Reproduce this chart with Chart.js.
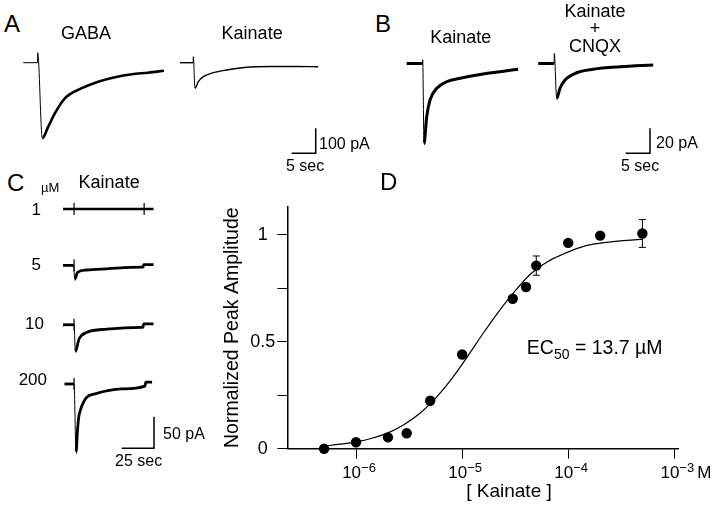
<!DOCTYPE html>
<html><head><meta charset="utf-8">
<script src="https://cdn.jsdelivr.net/npm/chart.js@4.4.1/dist/chart.umd.min.js"></script>
<style>
html,body{margin:0;padding:0;background:#fff;}
#fig{position:relative;width:720px;height:508px;overflow:hidden;background:#fff;font-family:'Liberation Sans',Arial,Helvetica,sans-serif;color:#000;}
#fig canvas{position:absolute;}
.t{position:absolute;line-height:1;white-space:nowrap;}
</style></head><body><div id="fig"></div>
<script>
// ---------- Panel D: dose-response ----------
const doseConc = [5e-7, 1e-6, 2e-6, 3e-6, 5e-6, 1e-5, 3e-5, 4e-5, 5e-5, 1e-4, 2e-4, 5e-4];
const doseAmp  = [0.0, 0.03, 0.053, 0.072, 0.224, 0.44, 0.70, 0.755, 0.855, 0.961, 0.995, 1.005];
const errConc  = [5e-5, 5e-4];
const errMean  = [0.855, 1.005];
const errSem   = [0.045, 0.065];
const fitConc  = [5.01e-7, 7.08e-7, 1.0e-6, 1.41e-6, 2.0e-6, 2.82e-6, 3.98e-6, 5.62e-6, 7.94e-6, 1.12e-5, 1.58e-5, 2.24e-5, 3.16e-5, 4.47e-5, 6.31e-5, 8.91e-5, 1.26e-4, 1.78e-4, 2.51e-4, 3.55e-4, 5.01e-4];
const fitAmp   = [0.012, 0.021, 0.032, 0.049, 0.074, 0.112, 0.164, 0.236, 0.325, 0.429, 0.539, 0.644, 0.737, 0.818, 0.872, 0.908, 0.938, 0.956, 0.966, 0.973, 0.978];
const xTickValues = [1e-6, 1e-5, 1e-4, 1e-3];
const xTickExps   = ['\u22126', '\u22125', '\u22124', '\u22123'];
const xTickUnits  = ['', '', '', 'M'];
const yTickValues = [0, 0.25, 0.5, 0.75, 1];
const yTickLabels = ['0', '', '0.5', '', '1'];
const xTitle = '[ Kainate ]';
const yTitle = 'Normalized Peak Amplitude';

// ---------- Panel A traces (time s, current pA) ----------
const gabaT = [-3.0, -0.05, 0, 0.96, 2.2, 3.6, 5.7, 9.2, 12.6, 16.1, 19.6, 23.0, 26.3];
const gabaI = [0, 0, 40, -302, -256, -202, -142, -102, -76, -58, -46, -40, -32];
const kaAT  = [-2.8, -0.05, 0, 0.35, 1.04, 2.1, 4.2, 7.0, 11.1, 16.0, 21.5, 26.0];
const kaAI  = [0, 0, 24, -102, -76, -56, -40, -29, -18, -15, -15, -16];
const barA  = [5, 100];   // 5 sec, 100 pA
// ---------- Panel B traces ----------
const kaBT  = [-3.3, -0.05, 0, 0.27, 0.82, 1.5, 2.9, 4.9, 7.7, 12.4, 15.9, 19.6];
const kaBI  = [0, 0, 3, -64, -42.6, -29.2, -19.8, -14.6, -11.8, -8.4, -6.6, -4.6];
const cnqxT = [-3.3, -0.05, 0, 0.49, 1.17, 2.2, 4.6, 8.0, 13.5, 20.3];
const cnqxI = [0, 0, 8, -28, -19.8, -13.2, -7.4, -4.6, -2.6, -1.2];
const barB  = [5, 20];    // 5 sec, 20 pA
// ---------- Panel C traces ----------
const c1T   = [-9.8, 70.3];
const c1I   = [0, 0];
const c1Marks = [0, 62];
const c5T   = [-9.8, -0.3, 0.5, 3.1, 10.9, 29, 60, 61, 61.6, 70.3];
const c5I   = [0, 0, -31, -15.5, -10.3, -7.6, -4, -4, 1.5, 1.5];
const c10T  = [-9.8, 0, 1.1, 4.4, 10.9, 29, 60, 61, 61.6, 70.3];
const c10I  = [0, 0, -54.3, -29, -15.8, -8.9, -5.2, -5.2, 1.6, 1.6];
const c200T = [-8.5, 0, 1.7, 3.0, 4.0, 5.5, 10.9, 18.6, 41.9, 62.6, 63.5, 69];
const c200I = [0, 0, -124, -85, -62, -48, -24.8, -18, -9, -3.8, 3.2, 3.2];
const onsetMarks = [0];
const barC  = [25, 50];   // 25 sec, 50 pA

const FONT = "'Liberation Sans', Arial, Helvetica, sans-serif";
Chart.defaults.font.family = FONT;
Chart.defaults.color = '#000';
const fig = document.getElementById('fig');

function addCanvas(l, t, w, h) {
  const c = document.createElement('canvas');
  c.width = w; c.height = h;
  c.style.left = l + 'px'; c.style.top = t + 'px';
  c.style.width = w + 'px'; c.style.height = h + 'px';
  fig.appendChild(c);
  return c;
}
function pts(t, I) { return t.map((v, i) => ({x: v, y: I[i]})); }
function traceSet(t, I, thick, thin, thinSegs) {
  return {data: pts(t, I), borderColor: '#000', pointRadius: 0, cubicInterpolationMode: 'monotone',
    clip: false, borderWidth: thick,
    segment: {borderWidth: ctx => thinSegs.includes(ctx.p0DataIndex) ? thin : thick}};
}
function markSet(t) {
  return {data: t.map(v => ({x: v, y: 0})), showLine: false, pointStyle: 'line', pointRotation: 90,
    pointRadius: 6, pointBorderWidth: 1.2, borderColor: '#000', clip: false};
}
function barSet(bar) {
  return {data: [{x: -bar[0], y: 0}, {x: 0, y: 0}, {x: 0, y: bar[1]}], borderColor: '#000',
    borderWidth: 1.5, pointRadius: 0, tension: 0, clip: false};
}
// box: [left, top, w, h]; origin: page px of (t=0, I=0); scale: [px per s, px per pA]
function traceChart(box, origin, scale, datasets) {
  const c = addCanvas(box[0], box[1], box[2], box[3]);
  const xmin = (box[0] - origin[0]) / scale[0], xmax = (box[0] + box[2] - origin[0]) / scale[0];
  const ymax = (origin[1] - box[1]) / scale[1], ymin = (origin[1] - box[1] - box[3]) / scale[1];
  return new Chart(c, {type: 'line', data: {datasets},
    options: {responsive: false, animation: false, devicePixelRatio: 1, events: [],
      layout: {padding: 0},
      plugins: {legend: {display: false}, tooltip: {enabled: false}},
      scales: {x: {type: 'linear', display: false, min: xmin, max: xmax},
               y: {type: 'linear', display: false, min: ymin, max: ymax}}}});
}

// Panel A
const sA = [4.8, 0.25];
traceChart([15, 40, 160, 108], [37.7, 62.7], sA, [traceSet(gabaT, gabaI, 2.6, 1, [0, 1, 2])]);
traceChart([175, 45, 150, 50], [193.3, 62.7], sA, [traceSet(kaAT, kaAI, 1.4, 1, [1, 2])]);
traceChart([285, 120, 40, 40], [315.7, 153.3], sA, [barSet(barA)]);
// Panel B
const sB = [4.87, 1.25];
traceChart([400, 45, 130, 105], [422.7, 63.5], sB, [traceSet(kaBT, kaBI, 3, 1, [1, 2])]);
traceChart([530, 45, 130, 65], [554.3, 63.5], sB, [traceSet(cnqxT, cnqxI, 3, 1, [1, 2])]);
traceChart([615, 120, 45, 40], [650, 153.3], sB, [barSet(barB)]);
// Panel C
const sC = [1.292, 0.632];
traceChart([50, 190, 115, 40], [69.3, 208.5], sC, [traceSet(c1T, c1I, 2.6, 2.6, []), markSet(c1Marks)]);
traceChart([50, 245, 115, 50], [69.3, 263.5], sC, [traceSet(c5T, c5I, 2.8, 1, [1]), markSet(onsetMarks)]);
traceChart([50, 303, 115, 65], [69.3, 321.7], sC, [traceSet(c10T, c10I, 2.8, 1, [1]), markSet(onsetMarks)]);
traceChart([50, 360, 115, 110], [69.3, 379.3], sC, [traceSet(c200T, c200I, 2.8, 1, [1]), markSet(onsetMarks)]);
traceChart([115, 410, 45, 45], [154, 448.3], sC, [barSet(barC)]);

// Panel D chart
const dPlugin = {
  id: 'dExtras',
  afterDatasetsDraw(chart) {
    const {ctx, scales: {x, y}} = chart;
    ctx.save(); ctx.strokeStyle = '#000'; ctx.lineWidth = 1;
    errConc.forEach((c, i) => {
      const px = x.getPixelForValue(c);
      const y1 = y.getPixelForValue(errMean[i] - errSem[i]);
      const y2 = y.getPixelForValue(errMean[i] + errSem[i]);
      ctx.beginPath();
      ctx.moveTo(px, y1); ctx.lineTo(px, y2);
      ctx.moveTo(px - 3.5, y1); ctx.lineTo(px + 3.5, y1);
      ctx.moveTo(px - 3.5, y2); ctx.lineTo(px + 3.5, y2);
      ctx.stroke();
    });
    ctx.restore();
  },
  afterDraw(chart) {
    const {ctx, chartArea, scales: {x}} = chart;
    ctx.save(); ctx.fillStyle = '#000'; ctx.textBaseline = 'alphabetic'; ctx.textAlign = 'left';
    const base = chartArea.bottom;
    const big = '17px ' + FONT, small = '13px ' + FONT;
    xTickValues.forEach((v, i) => {
      const px = x.getPixelForValue(v);
      ctx.font = big; const w1 = ctx.measureText('10').width;
      ctx.font = small; const w2 = ctx.measureText(xTickExps[i]).width;
      const sx = px + 3 - (w1 + w2) / 2;
      ctx.font = big; ctx.fillText('10', sx, base + 29.6);
      ctx.font = small; ctx.fillText(xTickExps[i], sx + w1, base + 23.3);
      if (xTickUnits[i]) { ctx.font = big; ctx.fillText(xTickUnits[i], sx + w1 + w2 + 3, base + 29.6); }
    });
    ctx.font = '19px ' + FONT; ctx.textAlign = 'center';
    ctx.fillText(xTitle, chartArea.left + 0.5664 * (chartArea.right - chartArea.left), base + 48);
    ctx.restore();
  }
};
const axisGrid = {drawOnChartArea: false, drawTicks: true, tickLength: 10, color: '#000', lineWidth: 1};
new Chart(addCanvas(200, 190, 520, 318), {
  type: 'scatter',
  data: {datasets: [
    {data: pts(fitConc, fitAmp), showLine: true, borderColor: '#000', borderWidth: 1.2, pointRadius: 0,
     cubicInterpolationMode: 'monotone', clip: false, order: 2},
    {data: pts(doseConc, doseAmp), showLine: false, pointRadius: 5.2, backgroundColor: '#000',
     borderColor: '#000', pointBorderWidth: 0, clip: false, order: 1}
  ]},
  options: {responsive: false, animation: false, devicePixelRatio: 1, events: [],
    layout: {padding: {left: 0, top: 16.7, right: 41.3, bottom: 0}},
    plugins: {legend: {display: false}, tooltip: {enabled: false}},
    scales: {
      x: {type: 'logarithmic', min: 2.25e-7, max: 1.1e-3,
        afterBuildTicks: s => { s.ticks = xTickValues.map(v => ({value: v})); },
        afterFit: s => { s.height = 59.3; },
        ticks: {display: false}, grid: axisGrid,
        border: {display: true, color: '#000', width: 1.5}},
      y: {type: 'linear', min: 0, max: 1.13,
        afterBuildTicks: s => { s.ticks = yTickValues.map(v => ({value: v})); },
        afterFit: s => { s.width = 87.3; },
        ticks: {callback: (v, i) => yTickLabels[i], color: '#000', font: {size: 18}, padding: 2, crossAlign: 'center'},
        grid: axisGrid, border: {display: true, color: '#000', width: 1.5},
        title: {display: true, text: yTitle, color: '#000', font: {size: 19.5}, padding: {top: 21.3, bottom: 0}}}
    }},
  plugins: [dPlugin]
});

// ---------- Text labels ----------
function label(html, left, top, size, extra) {
  const d = document.createElement('div');
  d.className = 't'; d.innerHTML = html;
  d.style.left = left + 'px'; d.style.top = top + 'px'; d.style.fontSize = size + 'px';
  if (extra) Object.assign(d.style, extra);
  fig.appendChild(d);
  return d;
}
function rlabel(text, right, top, size) {
  return label(text, right - 60, top, size, {width: '60px', textAlign: 'right'});
}
label('A', 4, 12, 24); label('B', 375, 12, 24); label('C', 7, 171, 24); label('D', 380, 170, 24);
label('GABA', 61, 24.4, 18); label('Kainate', 221.6, 24.4, 18);
label('Kainate', 430.3, 27.7, 18);
label('Kainate<br>+<br>CNQX', 555, 2.9, 18, {width: '80px', textAlign: 'center', lineHeight: '17.5px'});
label('100 pA', 319, 136.2, 16); label('5 sec', 286, 158, 16);
label('20 pA', 656, 135, 16); label('5 sec', 621, 158, 16);
label('\u00b5M', 41, 181.3, 13); label('Kainate', 78.6, 172.7, 18);
rlabel('1', 41, 201, 17); rlabel('5', 41, 256, 17); rlabel('10', 44, 314.5, 17); rlabel('200', 47, 370.8, 17);
label('50 pA', 163, 426, 16); label('25 sec', 115, 453, 16);
label('EC<span style="font-size:14px;position:relative;top:5px">50</span> = 13.7 \u00b5M', 526.8, 337.5, 19.5);
</script></body></html>
